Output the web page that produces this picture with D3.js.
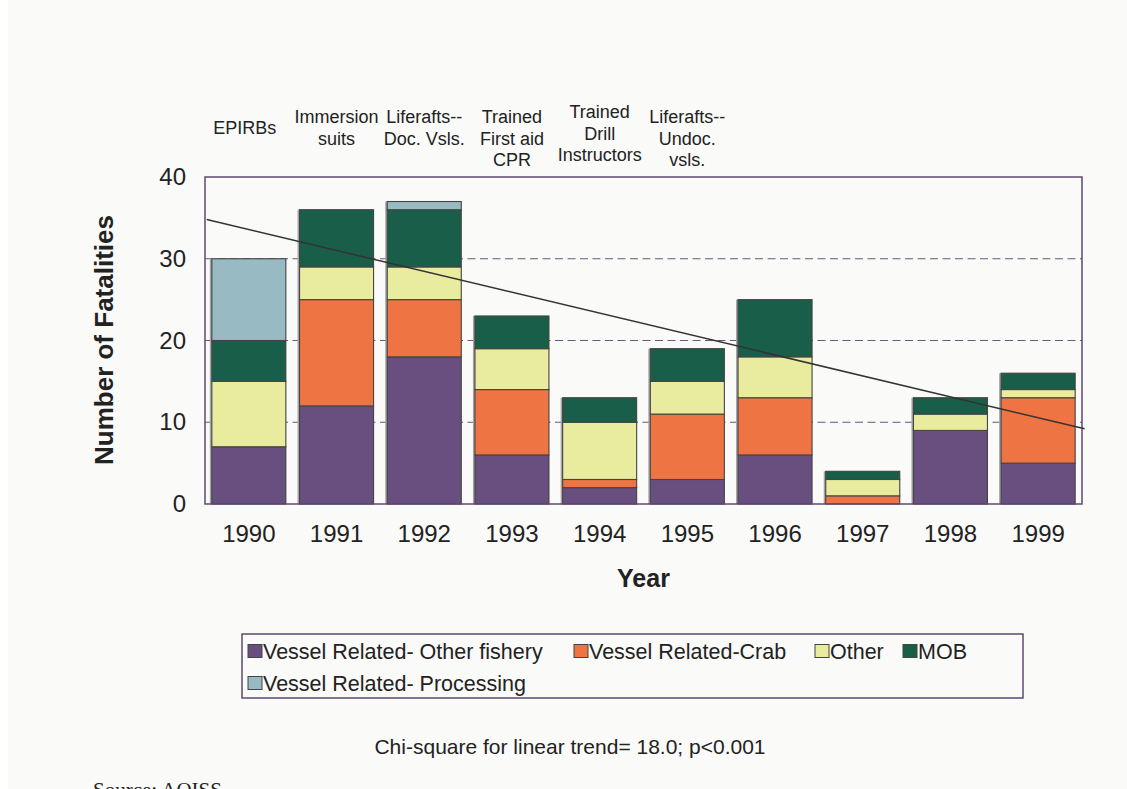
<!DOCTYPE html>
<html>
<head>
<meta charset="utf-8">
<script src="https://cdn.jsdelivr.net/npm/d3@7"></script>
<style>
  html, body { margin: 0; padding: 0; background: #ffffff; }
  svg { display: block; }
  text { font-family: "Liberation Sans", Arial, sans-serif; fill: #222; }
</style>
</head>
<body>
<svg id="chart" width="1127" height="789"></svg>
<script>
// ---- data ----
const years = [1990, 1991, 1992, 1993, 1994, 1995, 1996, 1997, 1998, 1999];
const seriesNames = ["Vessel Related- Other fishery", "Vessel Related-Crab", "Other", "MOB", "Vessel Related- Processing"];
const otherFishery = [7, 12, 18, 6, 2, 3, 6, 0, 9, 5];
const crab         = [0, 13, 7, 8, 1, 8, 7, 1, 0, 8];
const other        = [8, 4, 4, 5, 7, 4, 5, 2, 2, 1];
const mob          = [5, 7, 7, 4, 3, 4, 7, 1, 2, 2];
const processing   = [10, 0, 1, 0, 0, 0, 0, 0, 0, 0];
const yTicks = [0, 10, 20, 30, 40];
const gridValues = [10, 20, 30];
// trend line end points (year position, fatalities)
const trendYears = [1989.52, 1999.53];
const trendValues = [34.8, 9.2];
const annotations = [
  ["EPIRBs"],
  ["Immersion", "suits"],
  ["Liferafts--", "Doc. Vsls."],
  ["Trained", "First aid", "CPR"],
  ["Trained", "Drill", "Instructors"],
  ["Liferafts--", "Undoc.", "vsls."]
];
const colors = ["#694f80", "#ef7444", "#e9eb9e", "#195e48", "#98bac2"];

// ---- build ----
const svg = d3.select("#chart");
svg.append("rect").attr("x", 8).attr("y", 0).attr("width", 1119).attr("height", 789).attr("fill", "#fafaf8");

const plot = { left: 205, right: 1082, top: 177, bottom: 504 };

const x = d3.scaleBand().domain(years).range([plot.left, plot.right]).paddingInner(0.156).paddingOuter(0.078);
const y = d3.scaleLinear().domain([0, 40]).range([plot.bottom, plot.top]);
const xLin = d3.scaleLinear().domain([years[0], years[years.length - 1]])
  .range([x(years[0]) + x.bandwidth() / 2, x(years[years.length - 1]) + x.bandwidth() / 2]);

const table = years.map((yr, i) => ({
  year: yr,
  [seriesNames[0]]: otherFishery[i],
  [seriesNames[1]]: crab[i],
  [seriesNames[2]]: other[i],
  [seriesNames[3]]: mob[i],
  [seriesNames[4]]: processing[i]
}));
const stacked = d3.stack().keys(seriesNames)(table);

// gridlines
svg.append("g").selectAll("line").data(gridValues).join("line")
  .attr("x1", plot.left).attr("x2", plot.right)
  .attr("y1", d => y(d)).attr("y2", d => y(d))
  .attr("stroke", "#6b5680").attr("stroke-width", 1.2).attr("stroke-dasharray", "8,4.5");

// bar shadows
const totals = table.map((d, i) => otherFishery[i] + crab[i] + other[i] + mob[i] + processing[i]);
svg.append("g").selectAll("rect").data(years).join("rect")
  .attr("x", d => x(d) - 2).attr("width", x.bandwidth() + 2)
  .attr("y", (d, i) => y(totals[i])).attr("height", (d, i) => y(0) - y(totals[i]))
  .attr("fill", "#a3a3a3");

// stacked bars
svg.append("g").selectAll("g").data(stacked).join("g")
  .attr("fill", (d, i) => colors[i])
  .selectAll("rect").data(d => d.filter(s => s[1] - s[0] > 0)).join("rect")
  .attr("x", d => x(d.data.year)).attr("width", x.bandwidth())
  .attr("y", d => y(d[1])).attr("height", d => y(d[0]) - y(d[1]))
  .attr("stroke", "#454545").attr("stroke-width", 1.1);

// frame
svg.append("rect").attr("x", plot.left).attr("y", plot.top)
  .attr("width", plot.right - plot.left).attr("height", plot.bottom - plot.top)
  .attr("fill", "none").attr("stroke", "#5d4a6e").attr("stroke-width", 1.5);

// trend line
svg.append("line")
  .attr("x1", xLin(trendYears[0])).attr("y1", y(trendValues[0]))
  .attr("x2", xLin(trendYears[1])).attr("y2", y(trendValues[1]))
  .attr("stroke", "#333").attr("stroke-width", 1.5);

// y axis
const yAxis = svg.append("g").attr("transform", `translate(${plot.left},0)`)
  .call(d3.axisLeft(y).tickValues(yTicks).tickSize(0).tickPadding(19));
yAxis.select(".domain").remove();
yAxis.selectAll("text").attr("font-size", 24).attr("fill", "#222")
  .style("font-family", '"Liberation Sans", Arial, sans-serif');

// x axis
const xAxis = svg.append("g").attr("transform", `translate(0,${plot.bottom})`)
  .call(d3.axisBottom(x).tickSize(0).tickPadding(21));
xAxis.select(".domain").remove();
xAxis.selectAll("text").attr("font-size", 24).attr("fill", "#222")
  .style("font-family", '"Liberation Sans", Arial, sans-serif');

// axis titles
svg.append("text").attr("transform", "translate(113,340) rotate(-90)")
  .attr("text-anchor", "middle").attr("font-size", 26).attr("font-weight", "bold").attr("fill", "#2a2a2a")
  .text("Number of Fatalities");
svg.append("text").attr("x", (plot.left + plot.right) / 2).attr("y", 587)
  .attr("text-anchor", "middle").attr("font-size", 25).attr("font-weight", "bold").attr("fill", "#2a2a2a")
  .text("Year");

// annotations above bars
const firstBaseline = [134, 123, 123, 123, 118, 123];
const ann = svg.append("g");
annotations.forEach((lines, i) => {
  const cx = x(years[i]) + x.bandwidth() / 2 - (i === 0 ? 4 : 0);
  const t = ann.append("text").attr("text-anchor", "middle").attr("font-size", 18).attr("fill", "#262626")
    .attr("x", cx).attr("y", firstBaseline[i]);
  lines.forEach((ln, j) => {
    t.append("tspan").attr("x", cx).attr("dy", j === 0 ? 0 : 21.5).text(ln);
  });
});

// legend
const lg = svg.append("g");
lg.append("rect").attr("x", 242).attr("y", 634).attr("width", 781).attr("height", 64)
  .attr("fill", "#fafaf8").attr("stroke", "#5d4a6e").attr("stroke-width", 1.5);
const rowX = [248, 574, 815, 903, 248];
seriesNames.forEach((name, k) => {
  const r = k < 4 ? 0 : 1;
  const sx = rowX[k];
  const sy = r === 0 ? 644.5 : 676.5;
  lg.append("rect").attr("x", sx).attr("y", sy).attr("width", 14).attr("height", 13)
    .attr("fill", colors[k]).attr("stroke", "#444").attr("stroke-width", 1);
  lg.append("text").attr("x", sx + 15).attr("y", r === 0 ? 659 : 691)
    .attr("font-size", 21.5).attr("fill", "#222").text(name);
});

// footnotes
svg.append("text").attr("x", 570).attr("y", 754).attr("text-anchor", "middle")
  .attr("font-size", 21).attr("fill", "#222").text("Chi-square for linear trend= 18.0; p<0.001");
svg.append("text").attr("x", 93).attr("y", 797).attr("font-size", 21)
  .style("font-family", '"Liberation Serif", "Times New Roman", serif').attr("fill", "#222")
  .text("Source:  AOISS");
</script>
</body>
</html>
